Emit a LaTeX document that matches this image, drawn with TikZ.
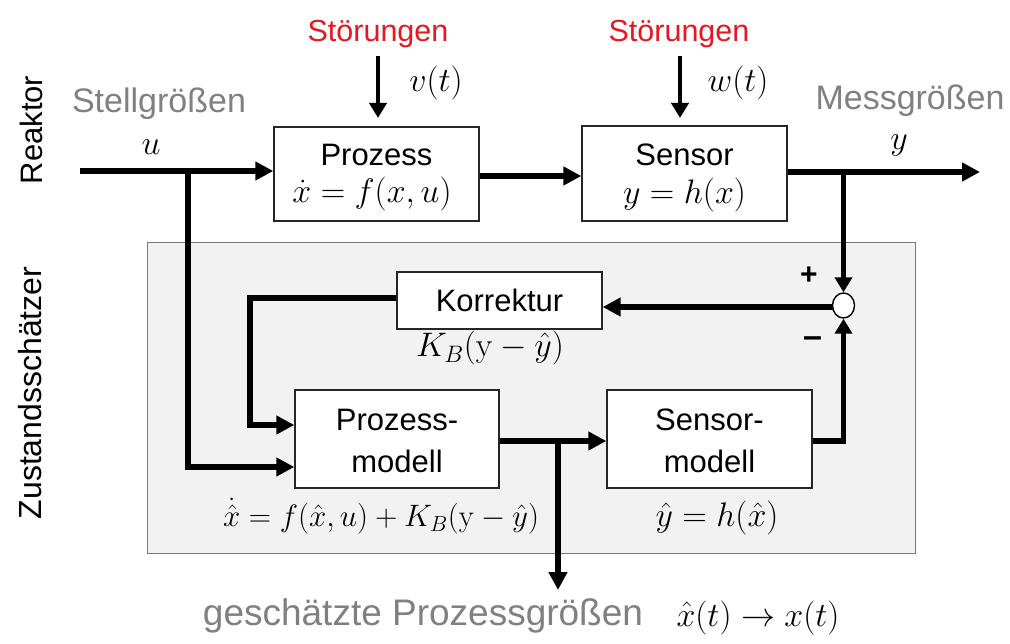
\RequirePackage{fix-cm}
\documentclass[tikz,border=0pt]{standalone}
\usepackage[no-math]{fontspec}
\setmainfont{Liberation Sans}
\usetikzlibrary{arrows.meta,shapes.geometric}
\definecolor{grtext}{RGB}{128,128,128}
\definecolor{redtext}{RGB}{232,22,32}
\definecolor{panel}{RGB}{242,242,242}
\definecolor{panelborder}{RGB}{120,120,120}
\begin{document}
\begin{tikzpicture}[x=1pt,y=-1pt,
  blockbox/.style={draw=black!85, line width=1.4pt, fill=white, inner sep=0pt},
  sig/.style={line width=5.5pt, -{Triangle[length=18pt,width=18pt]}},
  sigsmall/.style={line width=5.5pt, -{Triangle[length=15pt,width=17pt]}},
  dist/.style={line width=4.8pt, -{Triangle[length=15pt,width=17pt]}},
  lbl/.style={font=\fontsize{31}{36}\selectfont, inner sep=0pt, anchor=base},
  glbl/.style={font=\fontsize{34}{40}\selectfont, text=grtext, inner sep=0pt, anchor=base},
  rlbl/.style={font=\fontsize{30.5}{36}\selectfont, text=redtext, inner sep=0pt, anchor=base},
  mth/.style={font=\fontsize{34}{40}\selectfont, inner sep=0pt, anchor=base},
  sidelbl/.style={font=\fontsize{31}{36}\selectfont, inner sep=0pt, anchor=base, rotate=90}
]
\useasboundingbox (0,0) rectangle (1010,644);

% panel of the state estimator
\node[draw=panelborder, line width=1.4pt, fill=panel, minimum width=768pt, minimum height=311pt, inner sep=0pt, anchor=north west] (panelbox) at (147,242) {};

% side labels
\node[sidelbl] (reaktor) at (42,130) {Reaktor};
\node[sidelbl, font=\fontsize{32}{38}\selectfont] (zust) at (41,393) {Zustandsschätzer};

% blocks
\node[blockbox, minimum width=205pt, minimum height=94pt] (prozess) at (376.5,174) {};
\node[blockbox, minimum width=205pt, minimum height=95pt] (sensor) at (684.5,173.5) {};
\node[blockbox, minimum width=205pt, minimum height=57pt, font=\fontsize{31}{36}\selectfont] (korr) at (499.5,300.5) {Korrektur};
\node[blockbox, minimum width=204pt, minimum height=98pt] (pm) at (397,439) {};
\node[blockbox, minimum width=205pt, minimum height=98pt] (sm) at (709.5,439) {};
\node[ellipse, draw=black, line width=1.4pt, fill=white, minimum width=22pt, minimum height=25pt, inner sep=0pt] (sum) at (843.5,305.5) {};

% block texts
\node[lbl] (tproz) at (376.5,166) {Prozess};
\node[mth] (fproz) at (372,202.5) {$\dot{x} = f(x,u)$};
\node[lbl] (tsens) at (684.5,166) {Sensor};
\node[mth] (fsens) at (684.5,203.5) {$y = h(x)$};
\node[lbl] (tpm1) at (397,430) {Prozess-};
\node[lbl] (tpm2) at (397,472) {modell};
\node[lbl] (tsm1) at (709.5,430) {Sensor-};
\node[lbl] (tsm2) at (709.5,472) {modell};

% disturbances
\node[rlbl] (st1) at (378,42) {Störungen};
\node[rlbl] (st2) at (679,42) {Störungen};
\node[mth] (vt) at (436,91.5) {$v(t)$};
\node[mth] (wt) at (738,91.5) {$w(t)$};
\coordinate (d1s) at (378,56);
\coordinate (d1e) at (378,118);
\coordinate (d2s) at (680,56);
\coordinate (d2e) at (680,118);
\draw[dist] (d1s) -- (d1e);
\draw[dist] (d2s) -- (d2e);

% signal labels
\node[glbl] (stell) at (159,113) {Stellgrößen};
\node[mth] (ulbl) at (151,155) {$u$};
\node[glbl] (mess) at (910,110) {Messgrößen};
\node[mth] (ylbl) at (899,150) {$y$};

% formulas in estimator
\node[mth] (fkorr) at (490,357) {$K_B(\mathrm{y} - \hat{y})$};
\node[mth, font=\fontsize{31}{36}\selectfont] (fpm) at (381,526.5) {$\dot{\hat{x}} = f(\hat{x},u) + K_B(\mathrm{y} - \hat{y})$};
\node[mth] (fsm) at (717,526.5) {$\hat{y} = h(\hat{x})$};
\node[font=\bfseries\fontsize{30}{34}\selectfont, inner sep=0pt] (plus) at (809,276) {+};
\node[font=\bfseries\fontsize{34}{38}\selectfont, inner sep=0pt] (minus) at (812.5,342) {–};

% bottom label
\node[font=\fontsize{37}{44}\selectfont, text=grtext, inner sep=0pt, anchor=base] (gesch) at (423,625) {geschätzte Prozessgrößen};
\node[mth] (fgesch) at (758,626) {$\hat{x}(t) \to x(t)$};

% coordinates for connectors
\coordinate (uin) at (80,171);
\coordinate (ub) at (188,171);
\coordinate (ubend) at (188,467);
\coordinate (pout) at (480,176);
\coordinate (yout) at (980,172);
\coordinate (yb) at (843.5,172);
\coordinate (k1) at (250,298);
\coordinate (k2) at (250,425);
\coordinate (pmout) at (499,441);
\coordinate (xb) at (558,441);
\coordinate (xend) at (558,590);
\coordinate (sumin) at (832.5,307);

% connectors
\draw[sig] (uin) -- (uin -| prozess.west);
\draw[sig] (ub) -- (ubend) -- (ubend -| pm.west);
\draw[sig] (prozess.east |- pout) -- (sensor.west |- pout);
\draw[sig] (sensor.east |- yout) -- (yout);
\draw[sigsmall] (yb) -- (sum.north);
\draw[sig] (sumin) -- (korr.east |- sumin);
\draw[sig] (korr.west |- k1) -- (k1) -- (k2) -- (pm.west |- k2);
\draw[sig] (pm.east |- pmout) -- (sm.west |- pmout);
\draw[sig] (xb) -- (xend);
\draw[sigsmall] (sm.east |- pmout) -| (sum.south);
\end{tikzpicture}
\end{document}
